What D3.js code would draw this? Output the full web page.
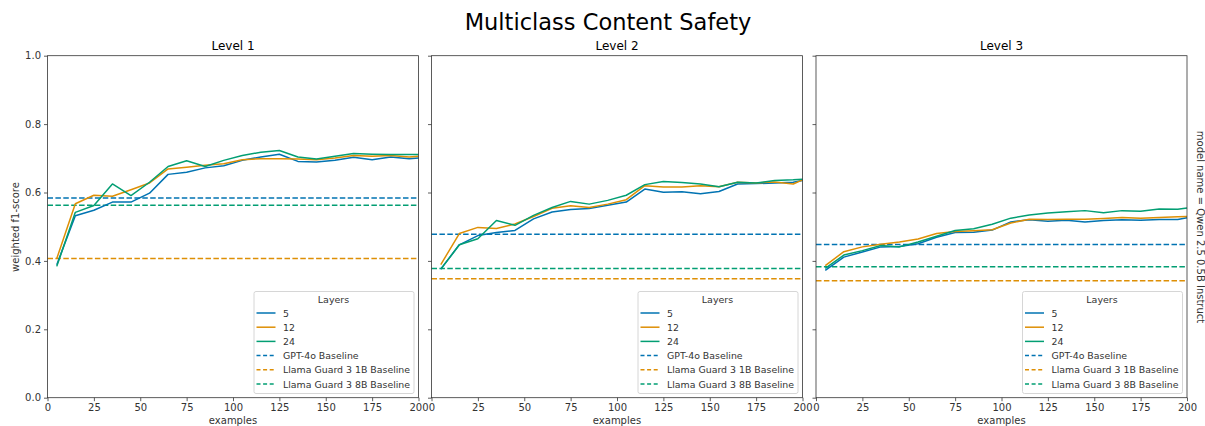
<!DOCTYPE html>
<html>
<head>
<meta charset="utf-8">
<script src="https://cdn.jsdelivr.net/npm/d3@7"></script>
<style>
body { margin: 0; background: #fff; }
svg { display: block; font-family: "DejaVu Sans", sans-serif; }
</style>
</head>
<body>
<svg id="chart" width="1205" height="426"></svg>
<script>
const examples = [5, 15, 25, 35, 45, 55, 65, 75, 85, 95, 105, 115, 125, 135, 145, 155, 165, 175, 185, 195, 200];
const panelTitles = ["Level 1", "Level 2", "Level 3"];
const layerNames = ["5", "12", "24"];
const baselineNames = ["GPT-4o Baseline", "Llama Guard 3 1B Baseline", "Llama Guard 3 8B Baseline"];
const xTicks = [0, 25, 50, 75, 100, 125, 150, 175, 200];
const yTicks = [0, 0.2, 0.4, 0.6, 0.8, 1.0];

// Level 1
const level1_l5  = [0.389, 0.532, 0.548, 0.572, 0.572, 0.598, 0.653, 0.659, 0.672, 0.678, 0.694, 0.704, 0.712, 0.691, 0.689, 0.694, 0.703, 0.696, 0.704, 0.699, 0.701];
const level1_l12 = [0.407, 0.567, 0.592, 0.589, 0.608, 0.628, 0.669, 0.674, 0.680, 0.684, 0.696, 0.699, 0.699, 0.698, 0.696, 0.701, 0.708, 0.706, 0.708, 0.704, 0.706];
const level1_l24 = [0.384, 0.542, 0.562, 0.625, 0.591, 0.630, 0.676, 0.693, 0.676, 0.694, 0.708, 0.718, 0.723, 0.704, 0.698, 0.706, 0.714, 0.712, 0.711, 0.711, 0.711];
const level1_baselines = [0.584, 0.407, 0.563];

// Level 2
const level2_l5  = [0.376, 0.447, 0.474, 0.483, 0.489, 0.523, 0.543, 0.550, 0.553, 0.563, 0.572, 0.610, 0.601, 0.602, 0.596, 0.603, 0.625, 0.626, 0.628, 0.630, 0.635];
const level2_l12 = [0.389, 0.480, 0.498, 0.495, 0.508, 0.530, 0.554, 0.561, 0.556, 0.566, 0.579, 0.620, 0.616, 0.616, 0.620, 0.617, 0.630, 0.628, 0.631, 0.625, 0.637];
const level2_l24 = [0.376, 0.447, 0.465, 0.518, 0.504, 0.533, 0.556, 0.574, 0.566, 0.577, 0.592, 0.623, 0.632, 0.629, 0.625, 0.617, 0.630, 0.628, 0.635, 0.637, 0.639];
const level2_baselines = [0.478, 0.348, 0.378];

// Level 3
const level3_l5  = [0.372, 0.411, 0.426, 0.441, 0.442, 0.450, 0.469, 0.483, 0.484, 0.490, 0.514, 0.520, 0.516, 0.519, 0.514, 0.518, 0.520, 0.519, 0.521, 0.521, 0.526];
const level3_l12 = [0.386, 0.427, 0.441, 0.449, 0.455, 0.464, 0.480, 0.486, 0.488, 0.491, 0.511, 0.522, 0.521, 0.522, 0.522, 0.524, 0.527, 0.525, 0.527, 0.529, 0.530];
const level3_l24 = [0.378, 0.417, 0.430, 0.445, 0.441, 0.455, 0.472, 0.489, 0.494, 0.507, 0.525, 0.534, 0.540, 0.544, 0.547, 0.541, 0.547, 0.545, 0.552, 0.551, 0.555];
const level3_baselines = [0.448, 0.342, 0.383];

const panelSeries = [
  [level1_l5, level1_l12, level1_l24],
  [level2_l5, level2_l12, level2_l24],
  [level3_l5, level3_l12, level3_l24]
];
const panelBaselines = [level1_baselines, level2_baselines, level3_baselines];

const colors = ["#0173b2", "#de8f05", "#029e73"];
const dash = "5.5,2.4";

const svg = d3.select("#chart");
const panelLefts = [47.5, 431.5, 816];
const panelW = 371;
const plotTop = 55.7, plotBottom = 397.7;

svg.append("text").attr("x", 608).attr("y", 30).attr("text-anchor", "middle")
  .attr("font-size", 22.5).attr("fill", "#000").text("Multiclass Content Safety");

const y = d3.scaleLinear().domain([0, 1]).range([plotBottom, plotTop]);

panelTitles.forEach((title, p) => {
  const left = panelLefts[p];
  const x = d3.scaleLinear().domain([0, 200]).range([left, left + panelW]);
  const g = svg.append("g");

  panelBaselines[p].forEach((v, i) => {
    g.append("line").attr("x1", x(0)).attr("x2", x(200)).attr("y1", y(v)).attr("y2", y(v))
      .attr("stroke", colors[i]).attr("stroke-width", 1.5).attr("stroke-dasharray", dash);
  });

  const line = d3.line().x((d, i) => x(examples[i])).y(d => y(d));
  panelSeries[p].forEach((s, i) => {
    g.append("path").datum(s).attr("d", line).attr("fill", "none")
      .attr("stroke", colors[i]).attr("stroke-width", 1.5).attr("stroke-linejoin", "round");
  });

  const xAxis = d3.axisBottom(x).tickValues(xTicks).tickSize(3.5).tickPadding(3).tickFormat(d3.format("d"));
  const gx = svg.append("g").attr("transform", `translate(0,${plotBottom})`).call(xAxis);
  const yAxis = d3.axisLeft(y).tickValues(yTicks).tickSize(3.5).tickPadding(3)
    .tickFormat(p === 0 ? d3.format(".1f") : () => "");
  const gy = svg.append("g").attr("transform", `translate(${left},0)`).call(yAxis);
  [gx, gy].forEach(a => {
    a.select(".domain").remove();
    a.selectAll("line").attr("stroke", "#333").attr("stroke-width", 0.8);
    a.selectAll("text").attr("font-size", 10).attr("fill", "#333").attr("font-family", "DejaVu Sans");
  });

  svg.append("rect").attr("x", left).attr("y", plotTop).attr("width", panelW).attr("height", plotBottom - plotTop)
    .attr("fill", "none").attr("stroke", "#333").attr("stroke-width", 0.8);

  svg.append("text").attr("x", left + panelW / 2).attr("y", 50).attr("text-anchor", "middle")
    .attr("font-size", 12).attr("fill", "#000").text(title);
  svg.append("text").attr("x", left + panelW / 2).attr("y", 424).attr("text-anchor", "middle")
    .attr("font-size", 10).attr("fill", "#333").text("examples");

  const lx = left + panelW - 165, ly = 291;
  const lg = svg.append("g").attr("transform", `translate(${lx},${ly})`);
  lg.append("rect").attr("x", 0.5).attr("y", 0.5).attr("width", 160).attr("height", 102).attr("rx", 2)
    .attr("fill", "#fff").attr("fill-opacity", 0.8).attr("stroke", "#d6d6d6").attr("stroke-width", 1);
  lg.append("text").attr("x", 80).attr("y", 12).attr("text-anchor", "middle")
    .attr("font-size", 9.5).attr("fill", "#333").text("Layers");
  const items = layerNames.map((n, i) => ({ name: n, color: colors[i], dashed: false }))
    .concat(baselineNames.map((n, i) => ({ name: n, color: colors[i], dashed: true })));
  items.forEach((it, i) => {
    const yy = 22 + i * 14.2;
    lg.append("line").attr("x1", 3).attr("x2", 22).attr("y1", yy).attr("y2", yy)
      .attr("stroke", it.color).attr("stroke-width", 1.5)
      .attr("stroke-dasharray", it.dashed ? "4,2.6" : null);
    lg.append("text").attr("x", 29.5).attr("y", yy + 3.5).attr("font-size", 9.4)
      .attr("fill", "#333").text(it.name);
  });
});

svg.append("text").attr("transform", "translate(19,227) rotate(-90)").attr("text-anchor", "middle")
  .attr("font-size", 10).attr("fill", "#333").text("weighted f1-score");
svg.append("text").attr("transform", "translate(1196.5,227) rotate(90)").attr("text-anchor", "middle")
  .attr("font-size", 10).attr("fill", "#333").text("model name = Qwen 2.5 0.5B Instruct");
</script>
</body>
</html>
